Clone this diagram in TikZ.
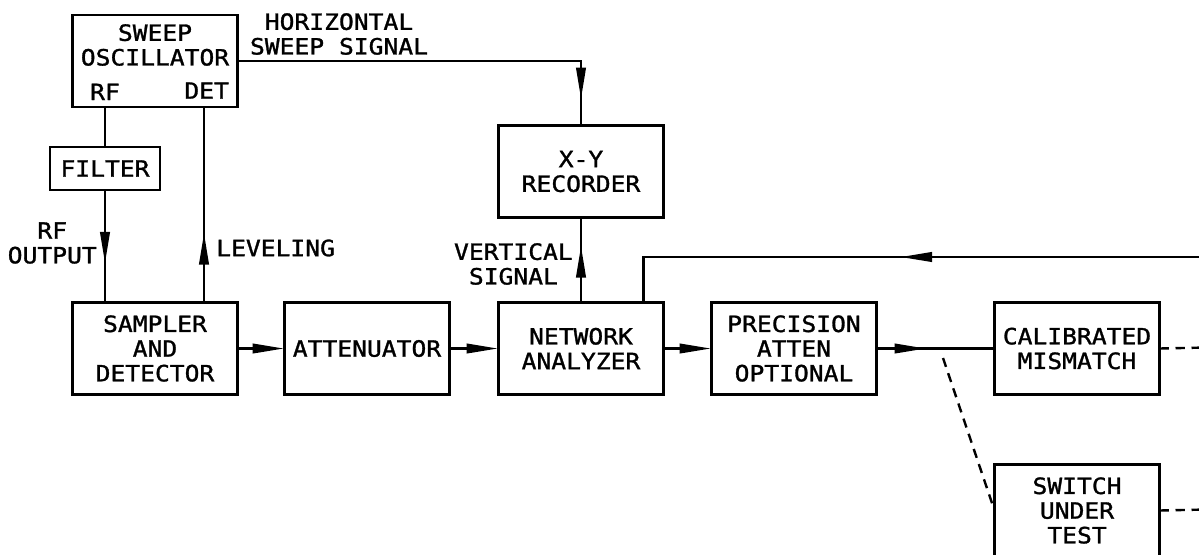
\documentclass[tikz,border=0pt]{standalone}
\usepackage{fontspec}
\newfontfamily\cadfont{DejaVu Sans Mono}[FakeStretch=1.1, FakeBold=1.3]
\newcommand\cadtext{\cadfont\fontsize{16.8}{18.5}\selectfont}
\usetikzlibrary{positioning, arrows.meta, decorations.markings}

\begin{document}
\begin{tikzpicture}[
    x=0.75pt, y=-0.75pt,
    node distance=36pt,
    blk/.style={rectangle, draw, line width=2.2pt, minimum width=123.75pt, minimum height=69pt, inner sep=0pt, outer sep=0pt, align=center, font=\cadtext},
    txt/.style={inner sep=0pt, align=center, font=\cadtext},
    wire/.style={line width=2.2pt},
    tip/.style={-{Triangle[length=24pt, width=7pt]}},
    midtip/.style={postaction={decorate}, decoration={markings, mark=at position #1 with {\arrow{Triangle[length=24pt, width=7pt]}}}},
    dashwire/.style={line width=1.8pt, dash pattern=on 7pt off 5pt}
]
\useasboundingbox (0,0) rectangle (1199,554);
\clip (0,0) rectangle (1199,554);

% Source side
\node[blk] (osc) at (155,61) {};
\node[txt] (osclbl) at (155,45) {SWEEP\\OSCILLATOR};
\node[blk, minimum width=82.5pt, minimum height=32.25pt] (filter) at (105,168.5) {FILTER};
\node[blk] (sampler) at (155,348.5) {SAMPLER\\AND\\DETECTOR};
\coordinate (lev) at ([xshift=36.75pt]sampler.north);
\node[txt] (rflbl) at (osc.south -| filter) [anchor=south, yshift=5pt] {RF};
\node[txt] (detlbl) at (osc.south -| lev) [anchor=south, xshift=2pt, yshift=6pt] {DET};

% Main chain
\node[blk, right=35.25pt of sampler] (atten) {ATTENUATOR};
\node[blk, right=36.75pt of atten] (net) {NETWORK\\ANALYZER};
\node[blk, above=63.75pt of net] (rec) {X-Y\\RECORDER};
\node[blk, right=36pt of net] (prec) {PRECISION\\ATTEN\\OPTIONAL};
\node[blk, right=88.5pt of prec] (cal) {CALIBRATED\\MISMATCH};
\node[blk, below=52.5pt of cal] (sw) {SWITCH\\UNDER\\TEST};

% Free ends
\coordinate (fbin) at (1230,257);
\coordinate (tap) at (943,358);
\coordinate (calout) at (1230,347);
\coordinate (swout) at (1230,509);

% Labels
\node[txt] (hlbl) at (339,34) {HORIZONTAL\\SWEEP SIGNAL};
\node[txt, anchor=east] (rfout) at (97,243) {RF\\OUTPUT};
\node[txt, anchor=west] (levlbl) at (216,248) {LEVELING};
\node[txt, anchor=east] (vlbl) at (573,264) {VERTICAL\\SIGNAL};

% Connectors
\draw[wire, midtip=-19.5pt] (osc.east) -| (rec.north);
\draw[wire] (osc.south -| filter) -- (filter.north);
\draw[wire, midtip=-29pt] (filter.south) -- (filter.south |- sampler.north);
\draw[wire, midtip=52.5pt] (lev) -- (lev |- osc.south);
\draw[wire, tip] (sampler) -- (atten);
\draw[wire, tip] (atten) -- (net);
\draw[wire, tip] (net) -- (prec);
\draw[wire, midtip=42.75pt] (net.north) -- (rec.south);
\draw[wire, midtip=247.5pt] (fbin) -| ([xshift=-15pt]net.north east);
\draw[wire, midtip=37.5pt] (prec) -- (cal);
\draw[dashwire] (tap) -- (sw.west);
\draw[dashwire] (cal.east) -- (calout);
\draw[dashwire] (sw.east) -- (swout);

\end{tikzpicture}
\end{document}
